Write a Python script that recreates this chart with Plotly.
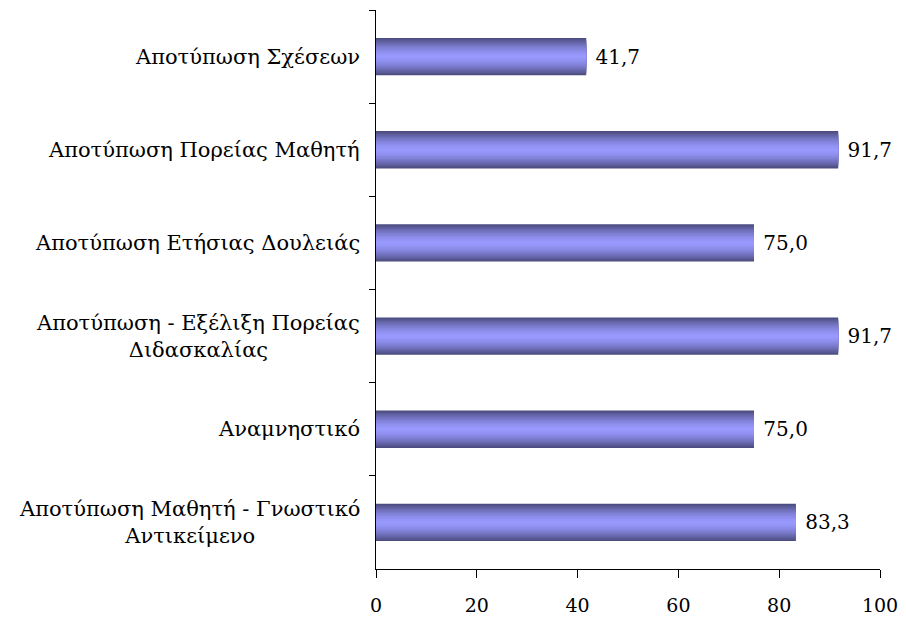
import plotly.graph_objects as go

# Categories top-to-bottom as in the chart
categories = [
    "Αποτύπωση Σχέσεων",
    "Αποτύπωση Πορείας Μαθητή",
    "Αποτύπωση Ετήσιας Δουλειάς",
    "Αποτύπωση - Εξέλιξη Πορείας<br>Διδασκαλίας",
    "Αναμνηστικό",
    "Αποτύπωση Μαθητή - Γνωστικό<br>Αντικείμενο",
]
values = [41.7, 91.7, 75.0, 91.7, 75.0, 83.3]
value_labels = ["\u00a0" + f"{v:.1f}".replace(".", ",") for v in values]
x_ticks = [0, 20, 40, 60, 80, 100]

FONT = "DejaVu Serif"
FS = 21
NUM_FS = 19
BAR_W = 0.40
EDGE = (76, 76, 128)     # dark edge of the bar
MID = (153, 153, 255)    # light centre of the bar
N_LAYERS = 16

fig = go.Figure()

# fake the cylinder-style gradient with stacked bars of shrinking width
for i in range(N_LAYERS):
    d = 1 - i / N_LAYERS
    t = d ** 1.6
    rgb = tuple(round(MID[k] + (EDGE[k] - MID[k]) * t) for k in range(3))
    first = i == 0
    fig.add_trace(go.Bar(
        x=values,
        y=categories,
        orientation="h",
        width=BAR_W * d,
        marker=dict(color="rgb(%d,%d,%d)" % rgb, line=dict(width=0)),
        text=value_labels if first else None,
        textposition="outside" if first else "none",
        textfont=dict(family=FONT, size=NUM_FS + 1, color="black"),
        cliponaxis=False,
        hoverinfo="skip" if not first else None,
        showlegend=False,
    ))

# category labels as annotations so two-line labels stay centred
for c in categories:
    fig.add_annotation(
        x=0, xref="paper", y=c, yref="y",
        text=c, showarrow=False,
        xanchor="right", align="center",
        xshift=-14,
        font=dict(family=FONT, size=FS, color="black"),
    )

# page body has 8px margins all round, so keep the figure inside the window
fig.update_layout(
    width=890, height=607,
    margin=dict(l=368, r=18, t=2, b=46, autoexpand=False),
    barmode="overlay",
    plot_bgcolor="white",
    paper_bgcolor="white",
    font=dict(family=FONT, size=FS, color="black"),
)
fig.update_xaxes(
    range=[0, 100], tickvals=x_ticks,
    showgrid=False, zeroline=False, automargin=False,
    showline=True, linecolor="black", linewidth=1,
    ticks="outside", ticklen=8, tickcolor="black",
    ticklabelstandoff=11, ticklabeloverflow="allow",
    tickfont=dict(family=FONT, size=NUM_FS),
)
fig.update_yaxes(
    categoryorder="array", categoryarray=categories,
    autorange="reversed", automargin=False,
    showticklabels=False,
    showgrid=False, zeroline=False,
    showline=True, linecolor="black", linewidth=1,
    ticks="outside", ticklen=6, tickcolor="black",
    tickson="boundaries",
)

fig.write_html("out.html")
